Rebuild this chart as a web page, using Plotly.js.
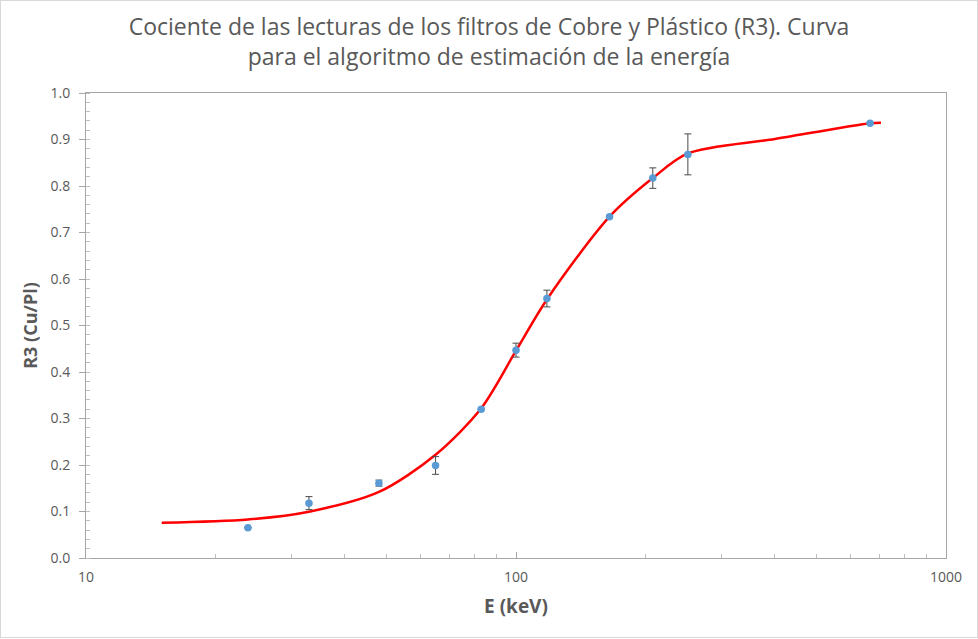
<!DOCTYPE html>
<html>
<head>
<meta charset="utf-8">
<script src="https://cdn.plot.ly/plotly-3.0.1.min.js"></script>
<style>
  html, body { margin: 0; padding: 0; background: #ffffff; }
  #frame { position: absolute; left: 0; top: 0; width: 976px; height: 636px; border: 1px solid #d9d9d9; background: #fff; }
  #chart { width: 976px; height: 636px; }
</style>
</head>
<body>
<div id="frame"><div id="chart"></div></div>
<script>
// Measured points (energy in keV, ratio R3 = Cu/Pl)
const energy = [23.8, 33, 48, 65, 83, 100, 118, 165, 208, 251, 666];
const ratio  = [0.065, 0.118, 0.161, 0.199, 0.320, 0.447, 0.558, 0.734, 0.817, 0.868, 0.935];
const ratioErr = [null, 0.014, 0.0065, 0.019, null, 0.015, 0.018, null, 0.022, 0.044, null];

// Fitted curve
const curveE = [15, 23.8, 33, 48, 65, 83, 100, 118, 165, 208, 251, 400, 666, 706];
const curveR = [0.076, 0.083, 0.0996, 0.142, 0.222, 0.322, 0.446, 0.556, 0.734, 0.817, 0.870, 0.901, 0.935, 0.936];

const xTicks = [10, 100, 1000];
const xTickText = ['10', '100', '1000'];

const titleText = 'Cociente de las lecturas de los filtros de Cobre y Plástico (R3). Curva<br>para el algoritmo de estimación de la energía';
const xTitle = 'E (keV)';
const yTitle = 'R3 (Cu/Pl)';

const FONT = "'Open Sans', sans-serif";
const GREY = '#595959';

const traces = [
  {
    x: curveE, y: curveR, type: 'scatter', mode: 'lines',
    line: { color: '#ff0000', width: 2.5, shape: 'spline', smoothing: 0.85 },
    hoverinfo: 'skip', showlegend: false
  },
  {
    x: energy, y: ratio, type: 'scatter', mode: 'markers',
    marker: { color: '#5b9bd5', size: 7.5 },
    error_y: { type: 'data', array: ratioErr, visible: true, color: '#4a4a4a', thickness: 1, width: 3.5 },
    showlegend: false
  }
];

const layout = {
  width: 976, height: 636,
  margin: { l: 85, r: 31, t: 92, b: 79 },
  paper_bgcolor: '#ffffff', plot_bgcolor: '#ffffff',
  font: { family: FONT, color: GREY, size: 13 },
  title: {
    text: titleText,
    font: { family: FONT, size: 23, color: GREY },
    x: 0.5, xanchor: 'center', xref: 'container',
    y: 0.947, yanchor: 'middle', yref: 'container'
  },
  xaxis: {
    type: 'log', range: [1, 3],
    tickvals: xTicks, ticktext: xTickText,
    showgrid: false, zeroline: false,
    showline: true, linecolor: '#a6a6a6', linewidth: 1, mirror: true,
    ticks: 'inside', ticklen: 6, tickcolor: '#a6a6a6',
    minor: { ticks: 'inside', ticklen: 4, tickcolor: '#bfbfbf', dtick: 'D1', showgrid: false },
    ticklabelstandoff: 6,
    tickfont: { family: FONT, size: 14, color: GREY },
    title: { text: xTitle, font: { family: FONT, size: 19, color: GREY, weight: 'bold' }, standoff: 14 }
  },
  yaxis: {
    range: [0, 1], dtick: 0.1, tickformat: '.1f',
    showgrid: false, zeroline: false,
    showline: true, linecolor: '#a6a6a6', linewidth: 1, mirror: true,
    ticks: 'outside', ticklen: 6, tickcolor: '#a6a6a6',
    minor: { ticks: 'inside', ticklen: 4, tickcolor: '#bfbfbf', dtick: 0.02, showgrid: false },
    ticklabelstandoff: 6,
    tickfont: { family: FONT, size: 14, color: GREY },
    title: { text: yTitle, font: { family: FONT, size: 18, color: GREY, weight: 'bold' }, standoff: 8 }
  }
};

Plotly.newPlot('chart', traces, layout, { displayModeBar: false, staticPlot: true });
</script>
</body>
</html>
